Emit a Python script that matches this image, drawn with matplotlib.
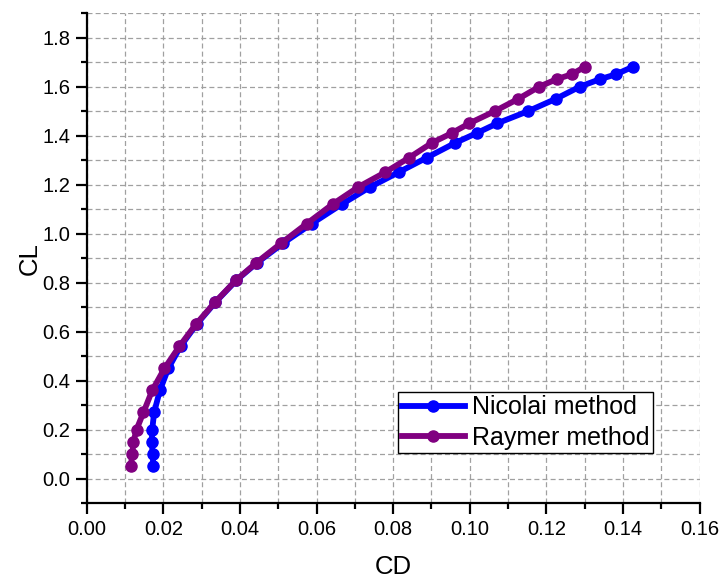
import matplotlib
matplotlib.use("Agg")
import matplotlib.pyplot as plt
from matplotlib.ticker import MultipleLocator

plt.rcParams['font.family'] = ['Liberation Sans', 'DejaVu Sans']

# lift coefficient values (shared by both methods)
cl = [0.05, 0.10, 0.15, 0.20, 0.27, 0.36, 0.45, 0.54, 0.63, 0.72, 0.81, 0.88,
      0.96, 1.04, 1.12, 1.19, 1.25, 1.31, 1.37, 1.41, 1.45, 1.50, 1.55, 1.60,
      1.63, 1.65, 1.68]

cd_nicolai = [0.0174, 0.0172, 0.0170, 0.0171, 0.0176, 0.0191, 0.0213, 0.0245,
              0.0287, 0.0336, 0.0391, 0.0444, 0.0512, 0.0587, 0.0666, 0.0740,
              0.0814, 0.0888, 0.0962, 0.1018, 0.1072, 0.1153, 0.1225, 0.1288,
              0.1340, 0.1382, 0.1425]

cd_raymer = [0.0115, 0.0119, 0.0122, 0.0130, 0.0148, 0.0171, 0.0203, 0.0242,
             0.0285, 0.0335, 0.0390, 0.0442, 0.0507, 0.0574, 0.0642, 0.0709,
             0.0779, 0.0842, 0.0901, 0.0953, 0.0999, 0.1066, 0.1127, 0.1182,
             0.1227, 0.1266, 0.1300]

fig = plt.figure(figsize=(7.19, 5.79), dpi=100)
ax = fig.add_axes([0.1206, 0.131, 0.8524, 0.8465])

ax.plot(cd_nicolai, cl, color='#0000FF', lw=4.2, marker='o', ms=8,
        label='Nicolai method', zorder=3)
ax.plot(cd_raymer, cl, color='#800080', lw=4.2, marker='o', ms=8,
        label='Raymer method', zorder=4)

ax.set_xlim(0, 0.16)
ax.set_ylim(-0.1, 1.9)
ax.xaxis.set_major_locator(MultipleLocator(0.02))
ax.xaxis.set_minor_locator(MultipleLocator(0.01))
ax.yaxis.set_major_locator(MultipleLocator(0.2))
ax.yaxis.set_minor_locator(MultipleLocator(0.1))
ax.xaxis.set_major_formatter(plt.FormatStrFormatter('%.2f'))
ax.yaxis.set_major_formatter(plt.FormatStrFormatter('%.1f'))

ax.grid(which='both', color='#a0a0a0', ls=(0, (4, 2.5)), lw=0.9)
ax.set_axisbelow(True)

for s in ['top', 'right']:
    ax.spines[s].set_visible(False)
for s in ['left', 'bottom']:
    ax.spines[s].set_linewidth(1.6)

ax.tick_params(which='major', direction='out', length=8, width=1.6,
               labelsize=14.5, pad=4)
ax.tick_params(which='minor', direction='out', length=4, width=1.6)

ax.set_xlabel('CD', fontsize=18.5, labelpad=12)
ax.set_ylabel('CL', fontsize=18.5, labelpad=0)

leg = ax.legend(loc='lower right', bbox_to_anchor=(0.9246, 0.1014), fontsize=18,
                fancybox=False, edgecolor='black', framealpha=1,
                handlelength=2.5, borderpad=0.15, labelspacing=0.25,
                handletextpad=0.3, borderaxespad=0)
leg.get_frame().set_linewidth(1.0)

fig.savefig('out.png', dpi=100)
